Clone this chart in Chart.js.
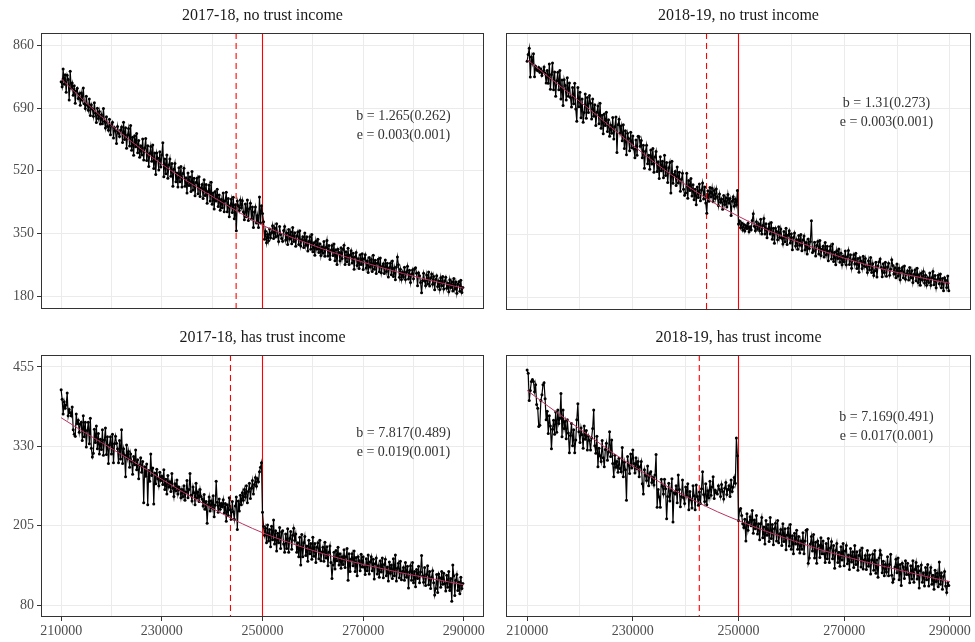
<!DOCTYPE html>
<html>
<head>
<meta charset="utf-8">
<script src="https://cdn.jsdelivr.net/npm/chart.js@4.4.1/dist/chart.umd.min.js"></script>
<style>
  html, body { margin: 0; padding: 0; background: #fff; }
  #wrap { position: relative; width: 975px; height: 642px; }
  #wrap canvas { position: absolute; }
</style>
</head>
<body>
<div id="wrap">
  <canvas id="c0" width="490" height="320" style="left:0;top:0"></canvas>
  <canvas id="c1" width="485" height="320" style="left:490px;top:0"></canvas>
  <canvas id="c2" width="490" height="322" style="left:0;top:320px"></canvas>
  <canvas id="c3" width="485" height="322" style="left:490px;top:320px"></canvas>
</div>
<script>
// bins of 200 starting at 210000
const binStart = 210000
const binWidth = 200

const xTicks = [210000, 220000, 230000, 240000, 250000, 260000, 270000, 280000, 290000]
const xLabelled = [210000, 230000, 250000, 270000, 290000]
const yTicksTop = [180, 350, 520, 690, 860]
const yTicksBottom = [80, 205, 330, 455]

const titles = ['2017-18, no trust income', '2018-19, no trust income', '2017-18, has trust income', '2018-19, has trust income']
const notes = [
  ['b = 1.265(0.262)', 'e = 0.003(0.001)'],
  ['b = 1.31(0.273)', 'e = 0.003(0.001)'],
  ['b = 7.817(0.489)', 'e = 0.019(0.001)'],
  ['b = 7.169(0.491)', 'e = 0.017(0.001)']
]
const dashX = [244760, 243950, 243640, 242580]
const cutX = 250000

// counterfactual fit, read every 4000
const fitX = [210000, 214000, 218000, 222000, 226000, 230000, 234000, 238000, 242000, 246000, 250000, 254000, 258000, 262000, 266000, 270000, 274000, 278000, 282000, 286000, 290000]
const p1Fit = [770, 717, 667, 621, 578, 538, 501, 467, 434, 402, 372, 349, 328, 308, 289, 272, 256, 241, 227, 214, 201]
const p2Fit = [822, 776, 731, 686, 638, 591, 546, 504, 465, 430, 399, 371, 347, 326, 305, 286, 269, 254, 241, 229, 218]
const p3Fit = [375, 355, 336, 317, 298, 278, 259, 241, 224, 208, 194, 182, 171, 161, 152, 144, 137, 130, 124, 118, 112]
const p4Fit = [418, 393, 369, 345, 321, 299, 279, 260, 243, 227, 213, 200, 188, 177, 166, 157, 148, 140, 132, 124, 117]

// 2017-18, no trust income
const p1Values = [
  762, 748, 796, 755, 781, 733, 779, 768, 712, 790, 745, 758, 725, 751, 703, 737, 744, 716, 729, 698,
  731, 712, 745, 702, 689, 722, 698, 684, 715, 670, 699, 688, 668, 705, 676, 651, 690, 662, 681, 647,
  672, 648, 689, 654, 636, 667, 641, 630, 660, 618, 645, 652, 609, 637, 628, 594, 640, 622, 613, 631,
  639, 597, 652, 605, 637, 581, 617, 635, 587, 643, 576, 611, 562, 615, 585, 621, 569, 602, 557, 588,
  563, 606, 549, 582, 608, 548, 588, 532, 567, 586, 546, 590, 526, 568, 510, 568, 554, 522, 572, 530,
  563, 596, 504, 552, 512, 563, 500, 536, 552, 505, 540, 478, 524, 540, 490, 514, 476, 528, 490, 532,
  476, 513, 527, 478, 501, 460, 514, 480, 503, 464, 518, 468, 500, 452, 488, 500, 458, 504, 450, 473,
  483, 445, 496, 453, 483, 432, 464, 481, 438, 489, 429, 460, 416, 464, 438, 470, 423, 454, 413, 442,
  420, 460, 409, 439, 462, 409, 445, 395, 425, 443, 407, 448, 390, 428, 357, 438, 425, 412, 441, 420,
  439, 408, 387, 430, 395, 441, 385, 417, 432, 389, 422, 366, 408, 422, 378, 399, 366, 449, 379, 425,
  404, 382, 334, 356, 325, 348, 330, 362, 338, 352, 371, 336, 365, 340, 376, 344, 328, 369, 347, 336,
  329, 358, 369, 332, 351, 320, 361, 335, 354, 322, 366, 328, 352, 315, 343, 354, 320, 357, 316, 333,
  341, 312, 351, 318, 341, 302, 328, 341, 307, 347, 300, 325, 291, 329, 308, 334, 298, 322, 290, 313,
  297, 328, 288, 312, 331, 289, 317, 279, 304, 317, 290, 321, 276, 306, 266, 307, 298, 276, 311, 282,
  307, 318, 266, 300, 273, 310, 266, 291, 303, 270, 296, 253, 286, 298, 263, 281, 255, 292, 266, 295,
  252, 281, 292, 256, 275, 244, 285, 259, 279, 247, 291, 253, 277, 241, 269, 280, 246, 283, 243, 260,
  268, 241, 278, 247, 269, 232, 257, 269, 238, 275, 233, 256, 224, 259, 286, 265, 231, 253, 225, 245,
  232, 258, 225, 245, 261, 226, 250, 217, 239, 251, 227, 254, 257, 242, 208, 243, 235, 217, 189, 222,
  242, 221, 208, 237, 213, 245, 207, 229, 240, 212, 233, 197, 225, 235, 206, 221, 198, 230, 208, 233,
  199, 221, 231, 201, 215, 192, 224, 203, 219, 194, 228, 199, 218, 188, 212, 219, 193, 223, 190, 203
]

// 2018-19, no trust income
const p2Values = [
  818, 836, 853, 775, 829, 812, 838, 776, 804, 795, 792, 801, 788, 797, 779, 790, 802, 785, 759, 793,
  758, 810, 742, 782, 813, 741, 789, 723, 765, 788, 741, 793, 716, 767, 698, 768, 752, 713, 773, 723,
  759, 720, 694, 747, 703, 758, 689, 656, 747, 695, 734, 665, 716, 653, 679, 729, 664, 720, 679, 725,
  704, 662, 716, 669, 700, 644, 680, 697, 649, 704, 637, 672, 622, 675, 644, 680, 628, 660, 615, 645,
  623, 666, 608, 641, 667, 571, 646, 661, 624, 643, 603, 646, 582, 630, 565, 623, 609, 576, 626, 584,
  616, 581, 557, 605, 564, 615, 614, 588, 604, 557, 591, 529, 575, 591, 541, 564, 526, 578, 540, 582,
  518, 559, 574, 520, 546, 501, 560, 522, 548, 503, 564, 509, 544, 490, 530, 544, 462, 548, 488, 512,
  520, 482, 532, 489, 518, 467, 499, 515, 472, 456, 462, 515, 448, 496, 469, 501, 454, 484, 444, 472,
  430, 478, 450, 486, 441, 470, 489, 446, 478, 435, 407, 468, 440, 477, 452, 475, 438, 469, 447, 473,
  452, 428, 459, 437, 446, 418, 455, 431, 449, 424, 458, 435, 447, 401, 440, 452, 426, 445, 430, 469,
  378, 386, 368, 381, 362, 377, 359, 374, 366, 380, 357, 371, 363, 388, 406, 372, 360, 384, 365, 379,
  360, 391, 351, 374, 393, 351, 379, 341, 365, 378, 351, 382, 337, 367, 326, 367, 358, 336, 371, 342,
  365, 340, 324, 358, 330, 367, 323, 348, 360, 327, 352, 309, 342, 354, 319, 336, 310, 347, 321, 350,
  306, 335, 346, 309, 328, 297, 338, 312, 331, 387, 301, 305, 329, 292, 320, 331, 297, 334, 293, 310,
  318, 289, 328, 295, 318, 279, 305, 318, 284, 324, 277, 302, 268, 306, 285, 311, 275, 299, 268, 291,
  276, 305, 268, 290, 307, 269, 295, 259, 282, 295, 270, 299, 258, 285, 248, 287, 278, 258, 291, 264,
  285, 263, 247, 279, 254, 288, 247, 271, 239, 252, 275, 235, 265, 276, 284, 261, 236, 271, 247, 275,
  237, 262, 272, 240, 256, 282, 266, 243, 260, 233, 270, 238, 259, 228, 252, 261, 233, 265, 229, 244,
  252, 227, 261, 233, 252, 220, 242, 254, 225, 259, 220, 241, 213, 245, 227, 250, 219, 240, 213, 233,
  220, 246, 213, 233, 250, 214, 239, 206, 228, 240, 217, 243, 206, 231, 198, 233, 226, 207, 238, 198
]

// 2017-18, has trust income
const p3Values = [
  419, 404, 381, 400, 390, 395, 414, 378, 388, 383, 378, 392, 356, 349, 346, 381, 366, 371, 352, 365,
  368, 339, 378, 345, 368, 329, 355, 368, 334, 374, 327, 313, 319, 357, 336, 362, 326, 350, 318, 341,
  325, 356, 316, 340, 359, 317, 345, 303, 332, 345, 318, 349, 304, 334, 346, 335, 326, 304, 339, 310,
  356, 303, 326, 316, 282, 332, 311, 322, 297, 318, 306, 286, 314, 301, 324, 293, 309, 279, 300, 312,
  289, 306, 241, 298, 283, 302, 238, 292, 275, 318, 284, 296, 239, 288, 271, 294, 279, 268, 289, 276,
  283, 270, 293, 262, 278, 255, 284, 266, 274, 259, 287, 264, 251, 271, 260, 277, 255, 266, 262, 249,
  262, 251, 268, 245, 258, 276, 249, 262, 287, 253, 244, 266, 257, 238, 272, 249, 258, 243, 262, 251,
  247, 236, 254, 231, 243, 209, 238, 250, 228, 244, 233, 252, 219, 237, 275, 242, 226, 247, 231, 240,
  235, 246, 225, 240, 212, 238, 221, 249, 230, 215, 243, 227, 215, 236, 250, 199, 244, 228, 253, 238,
  257, 245, 262, 250, 268, 241, 259, 272, 248, 264, 276, 255, 270, 281, 267, 279, 274, 290, 297, 304,
  226, 204, 190, 201, 178, 206, 181, 199, 172, 204, 183, 214, 176, 197, 165, 193, 178, 202, 169, 195,
  197, 176, 163, 192, 169, 200, 163, 185, 196, 168, 190, 201, 182, 192, 163, 178, 156, 187, 143, 191,
  156, 178, 188, 158, 173, 149, 182, 161, 177, 152, 187, 157, 177, 147, 171, 178, 153, 182, 150, 163,
  171, 149, 179, 154, 172, 142, 163, 173, 147, 122, 143, 163, 137, 166, 150, 171, 143, 161, 138, 156,
  144, 167, 139, 156, 169, 119, 161, 133, 152, 161, 142, 165, 133, 155, 126, 156, 150, 134, 160, 140,
  156, 140, 128, 153, 134, 159, 129, 148, 156, 134, 152, 121, 145, 154, 129, 142, 124, 150, 132, 154,
  123, 144, 152, 126, 140, 118, 148, 130, 143, 122, 153, 126, 159, 118, 138, 146, 123, 149, 120, 133,
  139, 119, 147, 124, 141, 107, 132, 142, 119, 147, 115, 133, 109, 136, 122, 141, 115, 132, 158, 126,
  116, 139, 111, 128, 142, 112, 133, 106, 124, 134, 115, 96, 106, 128, 100, 129, 123, 108, 133, 113,
  130, 114, 102, 127, 108, 133, 103, 122, 86, 143, 126, 95, 119, 128, 103, 116, 98, 124, 106, 114
]

// 2018-19, has trust income
const p4Values = [
  450, 445, 402, 418, 432, 435, 432, 416, 427, 396, 390, 361, 363, 402, 411, 427, 430, 405, 372, 385,
  350, 378, 362, 326, 357, 371, 349, 384, 352, 387, 366, 374, 413, 345, 387, 358, 369, 342, 372, 351,
  320, 347, 366, 331, 356, 320, 340, 372, 397, 353, 336, 359, 348, 327, 362, 341, 355, 324, 346, 339,
  324, 343, 358, 387, 331, 319, 346, 298, 327, 315, 306, 339, 312, 298, 325, 335, 308, 321, 353, 314,
  340, 303, 282, 316, 297, 306, 289, 311, 295, 290, 328, 282, 305, 293, 245, 314, 300, 287, 318, 296,
  324, 303, 288, 312, 295, 306, 282, 298, 306, 271, 255, 293, 284, 276, 299, 268, 287, 290, 273, 281,
  269, 285, 317, 234, 262, 250, 234, 278, 267, 255, 278, 263, 216, 251, 272, 244, 260, 279, 211, 257,
  255, 268, 241, 285, 262, 235, 251, 277, 249, 240, 266, 253, 271, 230, 259, 246, 233, 268, 252, 230,
  269, 251, 237, 258, 240, 263, 290, 254, 243, 271, 238, 260, 249, 275, 253, 266, 282, 248, 261, 257,
  255, 268, 262, 251, 270, 259, 247, 264, 273, 254, 262, 268, 251, 277, 259, 266, 281, 272, 343, 315,
  213, 229, 232, 221, 208, 202, 215, 181, 224, 198, 210, 219, 205, 229, 193, 214, 200, 221, 192, 208,
  183, 208, 218, 186, 203, 176, 213, 190, 207, 180, 218, 185, 207, 175, 200, 209, 181, 213, 178, 192,
  199, 174, 208, 180, 200, 167, 190, 201, 173, 207, 168, 189, 161, 193, 176, 198, 168, 188, 162, 181,
  168, 194, 161, 181, 198, 199, 146, 154, 176, 188, 165, 191, 154, 179, 146, 181, 174, 155, 186, 161,
  181, 161, 147, 177, 153, 185, 147, 170, 180, 153, 174, 138, 166, 177, 147, 163, 141, 172, 151, 177,
  142, 165, 174, 145, 159, 136, 169, 148, 164, 139, 174, 144, 164, 135, 158, 166, 140, 170, 137, 151,
  158, 136, 166, 141, 159, 129, 151, 160, 135, 166, 130, 151, 124, 154, 166, 159, 131, 149, 126, 144,
  132, 156, 126, 144, 160, 127, 116, 121, 140, 152, 131, 154, 120, 144, 111, 146, 140, 122, 150, 128,
  146, 128, 115, 142, 121, 150, 116, 136, 147, 121, 141, 107, 134, 143, 116, 131, 110, 139, 120, 144,
  110, 131, 139, 113, 127, 105, 135, 117, 130, 109, 148, 113, 131, 105, 125, 133, 110, 100, 115, 111
]

const serif = '"Liberation Serif", "DejaVu Serif", serif'
const tickGrey = '#4d4d4d'

// lines, panel border, title and the b / e note
const facetPlugin = {
  id: 'facet',
  beforeDatasetsDraw(chart, args, opts) {
    const ctx = chart.ctx
    const a = chart.chartArea
    const x = chart.scales.x
    ctx.save()
    ctx.beginPath()
    ctx.rect(a.left, a.top, a.right - a.left, a.bottom - a.top)
    ctx.clip()
    ctx.strokeStyle = '#ff0000'
    ctx.lineWidth = 1.1
    // dashed: bunching window start
    ctx.setLineDash([6, 4])
    const xd = x.getPixelForValue(opts.dash)
    ctx.beginPath()
    ctx.moveTo(xd, a.top)
    ctx.lineTo(xd, a.bottom)
    ctx.stroke()
    // solid: threshold
    ctx.setLineDash([])
    const xc = x.getPixelForValue(cutX)
    ctx.beginPath()
    ctx.moveTo(xc, a.top)
    ctx.lineTo(xc, a.bottom)
    ctx.stroke()
    ctx.restore()
  },
  afterDraw(chart, args, opts) {
    const ctx = chart.ctx
    const a = chart.chartArea
    const x = chart.scales.x
    const y = chart.scales.y
    ctx.save()
    ctx.strokeStyle = '#333333'
    ctx.lineWidth = 1
    ctx.strokeRect(Math.round(a.left) + 0.5, Math.round(a.top) + 0.5,
                   Math.round(a.right - a.left) - 1, Math.round(a.bottom - a.top) - 1)

    ctx.fillStyle = '#1a1a1a'
    ctx.font = '16px ' + serif
    ctx.textAlign = 'center'
    ctx.textBaseline = 'middle'
    ctx.fillText(opts.title, (a.left + a.right) / 2, opts.titleY)

    ctx.fillStyle = '#333333'
    ctx.font = '14px ' + serif
    const nx = x.getPixelForValue(opts.noteX)
    const ny = y.getPixelForValue(opts.noteY)
    ctx.fillText(opts.note[0], nx, ny - 9.5)
    ctx.fillText(opts.note[1], nx, ny + 9.5)
    ctx.restore()
  }
}

const panels = [
  { canvas: 'c0', title: titles[0], values: p1Values, fit: p1Fit, dash: dashX[0], note: notes[0], noteY: 641,
    yTicks: yTicksTop, yMin: 146, yMax: 894, leftAxis: true, bottomAxis: false,
    area: { left: 41, right: 484, top: 33, bottom: 310 }, titleY: 16 },
  { canvas: 'c1', title: titles[1], values: p2Values, fit: p2Fit, dash: dashX[1], note: notes[1], noteY: 679,
    yTicks: yTicksTop, yMin: 146, yMax: 894, leftAxis: false, bottomAxis: false,
    area: { left: 16, right: 484, top: 33, bottom: 310 }, titleY: 16 },
  { canvas: 'c2', title: titles[2], values: p3Values, fit: p3Fit, dash: dashX[2], note: notes[2], noteY: 335,
    yTicks: yTicksBottom, yMin: 61.25, yMax: 473.75, leftAxis: true, bottomAxis: true,
    area: { left: 41, right: 484, top: 35, bottom: 297 }, titleY: 18 },
  { canvas: 'c3', title: titles[3], values: p4Values, fit: p4Fit, dash: dashX[3], note: notes[3], noteY: 360,
    yTicks: yTicksBottom, yMin: 61.25, yMax: 473.75, leftAxis: false, bottomAxis: true,
    area: { left: 16, right: 484, top: 35, bottom: 297 }, titleY: 18 }
]

panels.forEach(p => {
  const el = document.getElementById(p.canvas)
  const W = el.width
  const H = el.height
  const points = p.values.map((v, i) => ({ x: binStart + i * binWidth, y: v }))
  const fitPoints = p.fit.map((v, i) => ({ x: fitX[i], y: v }))

  new Chart(el.getContext('2d'), {
    type: 'line',
    data: {
      datasets: [
        {
          label: 'fit',
          data: fitPoints,
          borderColor: '#b8325c',
          borderWidth: 1,
          pointRadius: 0,
          cubicInterpolationMode: 'monotone',
          order: 0
        },
        {
          label: 'count',
          data: points,
          borderColor: '#000000',
          borderWidth: 1.2,
          pointRadius: 1.5,
          pointBackgroundColor: '#000000',
          pointBorderWidth: 0,
          tension: 0,
          order: 1
        }
      ]
    },
    options: {
      responsive: false,
      animation: false,
      events: [],
      layout: { padding: { left: 0, right: W - p.area.right, top: p.area.top, bottom: 0 } },
      plugins: {
        legend: { display: false },
        tooltip: { enabled: false },
        facet: { title: p.title, titleY: p.titleY, dash: p.dash, note: p.note, noteX: 278000, noteY: p.noteY }
      },
      scales: {
        x: {
          type: 'linear',
          min: 206000,
          max: 294000,
          afterBuildTicks: s => { s.ticks = xTicks.map(v => ({ value: v })) },
          afterFit: s => { s.height = H - p.area.bottom },
          border: { display: false },
          grid: {
            color: '#ebebeb',
            lineWidth: 1,
            drawTicks: p.bottomAxis,
            tickLength: 4,
            tickColor: ctx => (ctx.tick && xLabelled.includes(ctx.tick.value)) ? '#333333' : 'rgba(0,0,0,0)'
          },
          ticks: {
            display: p.bottomAxis,
            autoSkip: false,
            maxRotation: 0,
            padding: 2,
            color: tickGrey,
            font: { family: serif, size: 14 },
            callback: v => xLabelled.includes(v) ? String(v) : ''
          }
        },
        y: {
          type: 'linear',
          min: p.yMin,
          max: p.yMax,
          afterBuildTicks: s => { s.ticks = p.yTicks.map(v => ({ value: v })) },
          afterFit: s => { s.width = p.area.left },
          border: { display: false },
          grid: {
            color: '#ebebeb',
            lineWidth: 1,
            drawTicks: p.leftAxis,
            tickLength: 4,
            tickColor: '#333333'
          },
          ticks: {
            display: p.leftAxis,
            padding: 3,
            color: tickGrey,
            font: { family: serif, size: 14 },
            callback: v => String(v)
          }
        }
      }
    },
    plugins: [facetPlugin]
  })
})
</script>
</body>
</html>
